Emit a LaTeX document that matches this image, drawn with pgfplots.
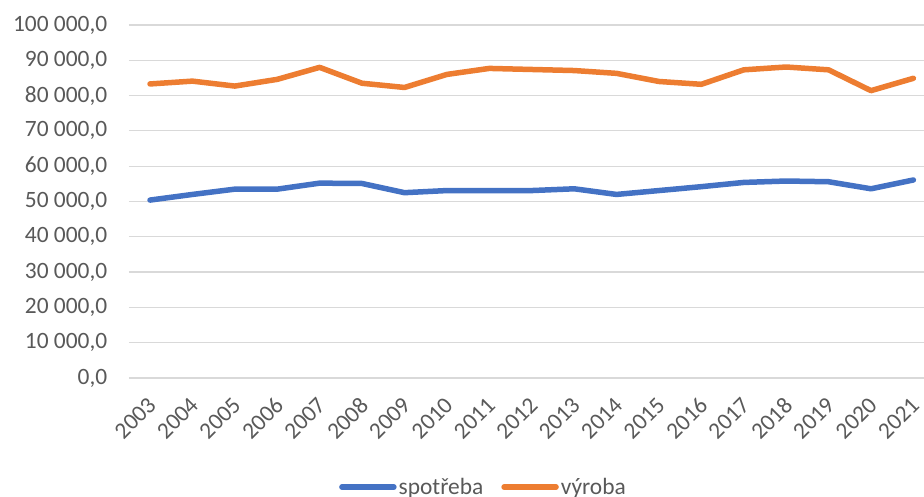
\documentclass[border=0pt]{standalone}
\usepackage{pgfplots}
\pgfplotsset{compat=1.18}
\usepackage{fontspec}
\setmainfont{Carlito}

\definecolor{cblue}{HTML}{4472C4}
\definecolor{corange}{HTML}{ED7D31}
\definecolor{cgrid}{HTML}{D9D9D9}
\definecolor{ctext}{HTML}{595959}

\begin{document}
\begin{tikzpicture}[font=\fontsize{23.5}{28}\selectfont]
\begin{axis}[
  scale only axis,
  width=795.2bp, height=353bp,
  xmin=-0.5, xmax=18.25,
  ymin=0, ymax=100000,
  ytick={0,10000,...,100000},
  xtick={0,...,18},
  xticklabels={2003,2004,2005,2006,2007,2008,2009,2010,2011,2012,2013,2014,2015,2016,2017,2018,2019,2020,2021},
  % shifts are in the rotated frame
  xticklabel style={rotate=45, anchor=north east, inner sep=2bp, xshift=-13bp, yshift=-8bp, text=ctext},
  yticklabel style={text=ctext, xshift=-18bp},
  scaled ticks=false,
  /pgf/number format/.cd, fixed, fixed zerofill, precision=1, use comma, 1000 sep={\ }, assume math mode=true,
  /pgfplots/.cd,
  ymajorgrids, grid style={cgrid, line width=1.2bp},
  axis line style={draw=none},
  major tick length=0pt,
  clip=false,
  legend columns=2,
  legend style={draw=none, fill=none, at={(rel axis cs:0.446,-0.309)}, anchor=center, text=ctext,
    /tikz/every even column/.append style={column sep=16bp}},
  legend image code/.code={\draw[#1] (0bp,0bp) -- (52bp,0bp);},
]
\coordinate (O) at (rel axis cs:0,0);
\addplot[cblue, line width=5.5bp, line cap=round, line join=round] coordinates {
(0,50400) (1,52000) (2,53500) (3,53500) (4,55200) (5,55100) (6,52500) (7,53100) (8,53100) (9,53100)
(10,53600) (11,52000) (12,53100) (13,54200) (14,55400) (15,55800) (16,55600) (17,53600) (18,56100)};
\addlegendentry{spotřeba}
\addplot[corange, line width=5.5bp, line cap=round, line join=round] coordinates {
(0,83300) (1,84100) (2,82700) (3,84600) (4,88000) (5,83500) (6,82300) (7,86000) (8,87700) (9,87400)
(10,87100) (11,86300) (12,84000) (13,83200) (14,87300) (15,88100) (16,87300) (17,81400) (18,84900)};
\addlegendentry{výroba}
\end{axis}
\pgfresetboundingbox
\path (O) ++(-128.8bp,-119bp) rectangle ++(924bp,497bp);
\end{tikzpicture}
\end{document}
